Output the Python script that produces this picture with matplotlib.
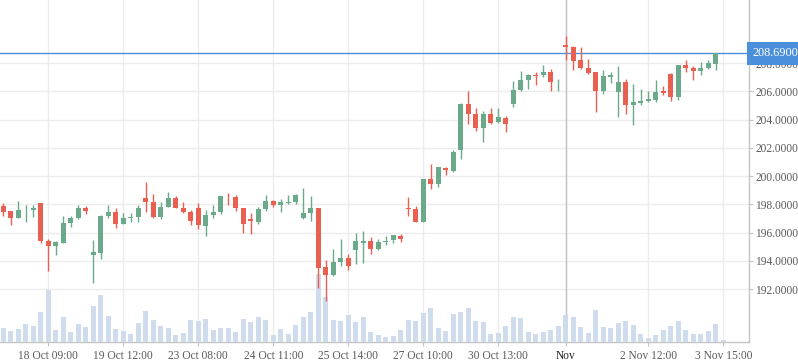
import matplotlib
matplotlib.use("Agg")
import matplotlib.pyplot as plt
import matplotlib.transforms as mtransforms
from matplotlib.patches import Rectangle

# ---------------- data ----------------
opens = [197.88, 197.52, 197.05, 197.57, 197.62, 198.09, 195.40, 195.07, 195.28, 196.67,
         197.00, 197.73, 194.43, 194.57, 197.17, 197.45, 196.63, 197.05, 197.12, 198.44,
         198.16, 197.10, 197.83, 198.44, 197.73, 197.45, 197.73, 196.46, 197.24, 197.45,
         198.68, 198.51, 197.73, 196.96, 196.74, 197.66, 198.23, 197.95, 198.09, 198.16,
         197.03, 197.38, 197.73, 193.56, 192.99, 193.91, 194.19, 194.76, 195.26, 195.40,
         194.83, 195.33, 195.47, 195.75, 197.76, 197.66, 196.77, 199.79, 199.46, 200.59,
         200.38, 201.86, 205.10, 204.41, 203.42, 204.39, 203.85, 204.11, 205.12, 206.11,
         206.82, 207.17, 207.17, 207.36, 206.70, 209.27, 209.13, 208.21, 207.65, 207.36,
         206.02, 207.01, 205.95, 206.65, 205.03, 205.17, 205.31, 205.38, 206.02, 207.22,
         205.59, 207.86, 207.65, 207.43, 207.65, 207.93, 208.69]
highs = [198.09, 197.52, 198.23, 197.95, 197.95, 198.09, 195.54, 195.40, 197.17, 197.17,
         197.95, 197.88, 195.47, 197.24, 197.95, 197.73, 197.38, 197.38, 197.95, 199.58,
         198.73, 198.16, 198.87, 198.58, 198.16, 197.59, 198.09, 197.59, 197.95, 198.58,
         198.80, 198.65, 197.73, 197.38, 197.81, 198.65, 198.30, 198.37, 198.65, 198.73,
         199.15, 198.58, 197.73, 194.05, 194.83, 195.54, 194.48, 195.96, 196.11, 195.68,
         195.54, 195.75, 195.82, 195.89, 198.51, 197.88, 199.79, 200.85, 200.64, 200.64,
         201.84, 205.17, 206.02, 204.81, 204.60, 204.81, 204.81, 204.25, 206.73, 207.43,
         207.22, 207.36, 207.86, 207.58, 206.87, 209.91, 209.20, 209.13, 208.28, 207.36,
         207.50, 207.36, 207.79, 206.87, 206.51, 206.16, 206.02, 206.80, 206.37, 207.29,
         207.86, 208.21, 207.79, 208.07, 208.21, 208.69, 208.69]
lows = [197.17, 196.53, 197.05, 196.77, 197.12, 195.28, 193.30, 194.43, 195.28, 196.41,
        196.93, 197.33, 192.45, 194.15, 197.05, 196.34, 196.63, 196.77, 196.77, 197.45,
        197.03, 196.96, 197.83, 197.73, 197.40, 196.53, 196.25, 195.75, 197.03, 197.31,
        197.95, 197.52, 195.96, 195.89, 196.60, 197.52, 197.81, 197.45, 198.02, 198.02,
        196.96, 196.81, 192.07, 191.15, 192.92, 193.63, 193.35, 193.77, 193.84, 194.48,
        194.76, 195.12, 195.26, 195.33, 197.19, 196.77, 196.77, 199.10, 199.25, 200.09,
        200.31, 201.23, 203.71, 203.21, 202.43, 203.68, 203.78, 203.14, 204.91, 206.04,
        206.16, 206.47, 207.03, 206.02, 206.02, 208.21, 207.50, 207.58, 207.22, 204.53,
        205.81, 206.61, 204.18, 204.39, 203.61, 205.05, 205.24, 205.26, 205.73, 205.31,
        205.38, 207.36, 206.80, 207.15, 207.58, 207.50, 208.69]
closes = [197.45, 197.05, 197.59, 197.59, 197.73, 195.42, 195.07, 195.33, 196.67, 197.03,
          197.73, 197.55, 194.62, 197.17, 197.45, 196.63, 197.03, 197.12, 197.73, 198.16,
          197.10, 197.81, 198.44, 197.73, 197.45, 196.81, 196.53, 197.24, 197.45, 198.58,
          198.63, 197.73, 196.63, 196.84, 197.66, 198.23, 197.95, 198.16, 198.16, 198.65,
          197.38, 197.73, 193.49, 192.99, 193.91, 194.19, 193.63, 195.40, 195.40, 194.83,
          195.33, 195.40, 195.82, 195.54, 197.69, 196.77, 199.79, 199.46, 200.64, 200.45,
          201.70, 205.10, 204.41, 203.42, 204.39, 203.75, 204.18, 203.71, 206.09, 206.80,
          207.17, 207.10, 207.36, 206.68, 206.75, 209.16, 208.14, 207.65, 207.29, 206.02,
          207.08, 207.15, 206.65, 205.03, 205.24, 205.31, 205.45, 205.95, 205.88, 205.59,
          207.86, 207.65, 207.43, 207.65, 208.00, 208.69, 208.69]
volumes = [14.3, 11.3, 13.3, 18.3, 16.3, 30.3, 52.3, 12.3, 25.3, 10.3,
           18.3, 15.3, 36.3, 47.3, 26.3, 13.3, 11.3, 8.3, 19.3, 31.3,
           22.3, 16.3, 14.3, 7.3, 9.3, 22.3, 21.3, 23.3, 12.3, 14.3,
           14.3, 10.3, 23.3, 20.3, 25.3, 22.3, 7.3, 13.3, 8.3, 17.3,
           25.3, 30.3, 68.3, 45.3, 22.3, 21.3, 27.3, 20.3, 25.3, 10.3,
           7.3, 5.3, 6.3, 12.3, 22.3, 21.3, 29.3, 34.3, 14.3, 11.3,
           28.3, 30.3, 34.3, 21.3, 20.3, 8.3, 9.3, 16.3, 25.3, 24.3,
           10.3, 8.3, 10.3, 12.3, 16.3, 27.3, 25.3, 15.3, 9.3, 32.3,
           15.3, 14.3, 19.3, 21.3, 17.3, 8.3, 4.3, 7.3, 12.3, 16.3,
           21.3, 12.3, 8.3, 8.3, 11.3, 18.3, 2.3]
tick_index = [6, 16, 26, 36, 46, 56, 66, 75, 86, 96]
tick_labels = ["18 Oct 09:00", "19 Oct 12:00", "23 Oct 08:00", "24 Oct 11:00",
               "25 Oct 14:00", "27 Oct 10:00", "30 Oct 13:00", "Nov",
               "2 Nov 12:00", "3 Nov 15:00"]
price_ticks = [192, 194, 196, 198, 200, 202, 204, 206, 208]
last_price = 208.69
crosshair_index = 75

# ---------------- style ----------------
UP = "#6aaa8b"
DOWN = "#ea6050"
VOL = "#cddbec"
GRID = "#ececec"
AXIS = "#c4c4c4"
TXT = "#5a5a5a"
FONT = ["Liberation Serif", "DejaVu Serif"]

W, H = 798, 363
fig = plt.figure(figsize=(W / 100, H / 100), dpi=100)
rect = [0, 21 / H, 749 / W, 342 / H]

xlim = (-0.44, 99.43)
ylim = (188.25, 212.46)

ax = fig.add_axes(rect, zorder=0)
ax.set_xlim(*xlim)
ax.set_ylim(*ylim)
ax.set_yticks(price_ticks)
ax.set_yticklabels([f"{p:.4f}" for p in price_ticks], family=FONT, fontsize=8.3, color=TXT)
ax.yaxis.tick_right()
ax.set_xticks(tick_index)
ax.set_xticklabels(tick_labels, family=FONT, fontsize=8.3, color=TXT)
for lab in ax.get_xticklabels():
    if lab.get_text() == "Nov":
        lab.set_color("#222222")
ax.tick_params(axis="both", length=3, width=0.8, color=AXIS, pad=1.5)
ax.tick_params(axis="x", pad=3)
ax.grid(True, color=GRID, linewidth=1.0)
ax.set_axisbelow(True)
for side in ["left", "top"]:
    ax.spines[side].set_visible(False)
for side in ["right", "bottom"]:
    ax.spines[side].set_color(AXIS)
    ax.spines[side].set_linewidth(1.0)
# vertical crosshair (below volume and candles)
ax.axvline(crosshair_index, color="#c2c2c2", linewidth=1.0, zorder=1)

# volume axis
axv = fig.add_axes(rect, zorder=1, sharex=ax)
axv.patch.set_visible(False)
axv.axis("off")
axv.set_ylim(0, max(volumes) * 342 / 68.3)
axv.bar(range(len(volumes)), volumes, width=0.66, color=VOL, linewidth=0, alpha=0.95)

# candle axis
axc = fig.add_axes(rect, zorder=2, sharex=ax, sharey=ax)
axc.patch.set_visible(False)
axc.axis("off")
axc.axhline(last_price, color="#4a8fd9", linewidth=1.0, zorder=1)
for i, (o, h, l, c) in enumerate(zip(opens, highs, lows, closes)):
    col = UP if c > o else DOWN
    axc.vlines(i, l, h, color=col, linewidth=1.0, zorder=2)
    lo, hi = min(o, c), max(o, c)
    hgt = max(hi - lo, 0.05)
    axc.add_patch(Rectangle((i - 0.33, lo), 0.66, hgt, facecolor=col, edgecolor="none", zorder=3))

trans = mtransforms.blended_transform_factory(ax.transAxes, ax.transData)
axc.text(1.005, last_price, f"{last_price:.4f}", transform=trans, ha="left", va="center",
         family=FONT, fontsize=8.8, color="white", clip_on=False, zorder=5,
         bbox=dict(boxstyle="square,pad=0.45", facecolor="#4a8fd9", edgecolor="none"))

fig.savefig("out.png", dpi=100, facecolor="white")
